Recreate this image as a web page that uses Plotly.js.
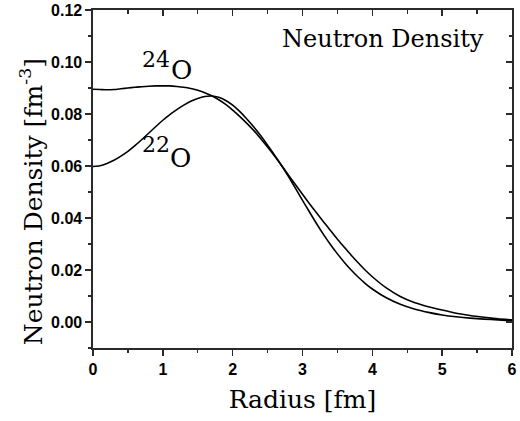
<!DOCTYPE html>
<html>
<head>
<meta charset="utf-8">
<script src="https://cdn.plot.ly/plotly-3.0.1.min.js"></script>
<style>
html, body { margin: 0; padding: 0; background: #fff; }
#chart { width: 520px; height: 421px; }
</style>
</head>
<body>
<div id="chart"></div>
<script>
// Radius [fm]
const radius = [0, 0.1, 0.2, 0.3, 0.4, 0.5, 0.6, 0.7, 0.8, 0.9, 1.0, 1.1, 1.2, 1.3, 1.4, 1.5, 1.6, 1.7, 1.8, 1.9,
  2.0, 2.1, 2.2, 2.3, 2.4, 2.5, 2.6, 2.7, 2.8, 2.9, 3.0, 3.1, 3.2, 3.3, 3.4, 3.5, 3.6, 3.7, 3.8, 3.9,
  4.0, 4.2, 4.4, 4.6, 4.8, 5.0, 5.2, 5.4, 5.6, 5.8, 6.0];

// Neutron density of 22O [fm^-3]
const density22O = [0.0598, 0.0601, 0.0610, 0.0622, 0.0638, 0.0656, 0.0678, 0.0702, 0.0727, 0.0752,
  0.0776, 0.0798, 0.0817, 0.0834, 0.0849, 0.0860, 0.0867, 0.0869, 0.0864, 0.0852,
  0.0834, 0.0810, 0.0782, 0.0751, 0.0717, 0.0680, 0.0642, 0.0602, 0.0559, 0.0514,
  0.0468, 0.0423, 0.0379, 0.0337, 0.0298, 0.0262, 0.0229, 0.0199, 0.0172, 0.0148,
  0.0127, 0.0093, 0.0068, 0.0050, 0.0037, 0.0027, 0.0020, 0.0015, 0.0011, 0.0008, 0.0005];

// Neutron density of 24O [fm^-3]
const density24O = [0.0895, 0.0894, 0.0893, 0.0894, 0.0897, 0.0900, 0.0903, 0.0905, 0.0907, 0.0908,
  0.0908, 0.0908, 0.0906, 0.0903, 0.0898, 0.0891, 0.0882, 0.0870, 0.0855, 0.0837,
  0.0815, 0.0791, 0.0765, 0.0737, 0.0706, 0.0673, 0.0638, 0.0602, 0.0565, 0.0528,
  0.0491, 0.0455, 0.0420, 0.0386, 0.0352, 0.0318, 0.0287, 0.0256, 0.0227, 0.0199,
  0.0174, 0.0131, 0.0098, 0.0075, 0.0059, 0.0046, 0.0034, 0.0025, 0.0018, 0.0012, 0.0008];

const xTicks = [0, 1, 2, 3, 4, 5, 6];
const yTicks = [0.00, 0.02, 0.04, 0.06, 0.08, 0.10, 0.12];
const yTickText = ['0.00', '0.02', '0.04', '0.06', '0.08', '0.10', '0.12'];

// isotope labels: mass number (superscript) and element symbol
const massNumbers = ['24', '22'];
const elementSymbol = 'O';

const xRange = [0, 6];
const yRange = [-0.01, 0.12];

const lineStyle = { color: '#000', width: 1.6, shape: 'spline', smoothing: 0.5 };

const traces = [
  { x: radius, y: density22O, type: 'scatter', mode: 'lines', line: lineStyle, name: '22O', hoverinfo: 'skip' },
  { x: radius, y: density24O, type: 'scatter', mode: 'lines', line: lineStyle, name: '24O', hoverinfo: 'skip' },
  { x: [], y: [], xaxis: 'x2', yaxis: 'y2', type: 'scatter', mode: 'lines', showlegend: false, hoverinfo: 'skip' }
];

const tickFont = { family: 'Liberation Sans, Arial, sans-serif', size: 16, color: '#000', weight: 'bold' };
const serif = 'DejaVu Serif, serif';
const axisColor = '#2a2a2a';

function label(text, x, y, size) {
  return { text: text, xref: 'x', yref: 'y', x: x, y: y, xanchor: 'left', yanchor: 'middle',
    showarrow: false, font: { family: serif, size: size, color: '#000' } };
}

const layout = {
  width: 520, height: 421,
  margin: { l: 93, r: 8, t: 10, b: 73 },
  paper_bgcolor: '#fff', plot_bgcolor: '#fff',
  showlegend: false,
  font: { family: serif, color: '#000' },
  xaxis: {
    range: xRange, tickmode: 'array', tickvals: xTicks, ticktext: xTicks.map(String),
    ticks: 'outside', ticklen: 6, tickwidth: 1.5, tickcolor: axisColor,
    showline: true, linecolor: axisColor, linewidth: 1.6,
    showgrid: false, zeroline: false, tickfont: tickFont,
    minor: { dtick: 0.5, ticks: 'outside', ticklen: 3.5, tickwidth: 1.3, tickcolor: axisColor, showgrid: false },
    title: { text: 'Radius [fm]', font: { family: serif, size: 25, color: '#000' }, standoff: 14 }
  },
  yaxis: {
    range: yRange, tickmode: 'array', tickvals: yTicks, ticktext: yTickText,
    ticks: 'outside', ticklen: 6, tickwidth: 1.5, tickcolor: axisColor,
    showline: true, linecolor: axisColor, linewidth: 1.6,
    showgrid: false, zeroline: false, tickfont: tickFont,
    minor: { dtick: 0.01, ticks: 'outside', ticklen: 3.5, tickwidth: 1.3, tickcolor: axisColor, showgrid: false }
  },
  xaxis2: {
    overlaying: 'x', side: 'top', anchor: 'y2', range: xRange,
    tickmode: 'array', tickvals: xTicks, showticklabels: false,
    ticks: 'inside', ticklen: 6, tickwidth: 1.5, tickcolor: axisColor,
    showline: true, linecolor: axisColor, linewidth: 1.6, showgrid: false, zeroline: false,
    minor: { dtick: 0.5, ticks: 'inside', ticklen: 3.5, tickwidth: 1.3, tickcolor: axisColor, showgrid: false }
  },
  yaxis2: {
    overlaying: 'y', side: 'right', anchor: 'x2', range: yRange,
    tickmode: 'array', tickvals: yTicks, showticklabels: false,
    ticks: 'inside', ticklen: 6, tickwidth: 1.5, tickcolor: axisColor,
    showline: true, linecolor: axisColor, linewidth: 1.6, showgrid: false, zeroline: false,
    minor: { dtick: 0.01, ticks: 'inside', ticklen: 3.5, tickwidth: 1.3, tickcolor: axisColor, showgrid: false }
  },
  annotations: [
    { text: 'Neutron Density [fm<sup>-3</sup>]', textangle: -90, xref: 'paper', yref: 'paper',
      x: -0.145, y: 0.432, xanchor: 'center', yanchor: 'middle', showarrow: false,
      font: { family: serif, size: 25, color: '#000' } },
    { text: 'Neutron Density', xref: 'paper', yref: 'paper', x: 0.938, y: 0.961,
      xanchor: 'right', yanchor: 'top', showarrow: false,
      font: { family: serif, size: 24, color: '#000' } },
    label(massNumbers[0], 0.68, 0.1010, 22),
    label(elementSymbol, 1.09, 0.0970, 26),
    label(massNumbers[1], 0.68, 0.0682, 22),
    label(elementSymbol, 1.08, 0.0631, 26)
  ]
};

Plotly.newPlot('chart', traces, layout, { staticPlot: true, displayModeBar: false });
</script>
</body>
</html>
